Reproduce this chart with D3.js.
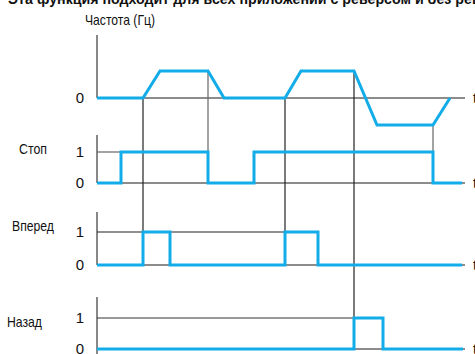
<!DOCTYPE html>
<html><head><meta charset="utf-8">
<script src="https://cdn.jsdelivr.net/npm/d3@7"></script>
<style>html,body{margin:0;padding:0;background:#fff;overflow:hidden}</style>
</head><body>
<script>
// Data (time in arbitrary units)
const title = "Эта функция подходит для всех приложений с реверсом и без реверса";
const freqLabel = "Частота (Гц)";
const freqPoints = [[0,0],[46,0],[63,1],[111,1],[127,0],[188,0],[204,1],[257,1],[280,-1],[336,-1],[353,0]];
const signalNames = ["Стоп","Вперед","Назад"];
const stopSteps = [[0,0],[24,1],[111,0],[157,1],[336,0],[365,0]];
const forwardSteps = [[0,0],[46,1],[73,0],[188,1],[221,0],[365,0]];
const reverseSteps = [[0,0],[257,1],[286,0],[366,0]];
const levelTicks = ["0","1"];
const timeLabel = "t";
const tEnd = 368;
// markers: [time, fromLevel(freq), toPanel, color]
const markers = [[46,0,1,"#222"],[111,1,0,"#666"],[188,0,1,"#222"],[257,1,2,"#222"],[336,-1,0,"#666"]];
const oneLineEnds = [24,188,257];

const W=475,H=354, blue="#12ade8";
const svg=d3.select("body").append("svg").attr("width",W).attr("height",H);
const x=d3.scaleLinear().domain([0,tEnd]).range([97,465]);
const yF=d3.scaleLinear().domain([-1,1]).range([125,71]);
const panels=[
 {name:signalNames[0],data:stopSteps,y:d3.scaleLinear().domain([0,1]).range([183,152]),top:135,bottom:183,c1:"#666",lx:19,ly:154,lw:28},
 {name:signalNames[1],data:forwardSteps,y:d3.scaleLinear().domain([0,1]).range([265,232]),top:212,bottom:265,c1:"#222",lx:12,ly:231,lw:42},
 {name:signalNames[2],data:reverseSteps,y:d3.scaleLinear().domain([0,1]).range([349,318]),top:297,bottom:354,c1:"#333",lx:7,ly:327,lw:35}
];
const font="'Liberation Sans Narrow','Arial Narrow',Arial,sans-serif";

svg.append("text").attr("x",8).attr("y",3.5).attr("font-family","'Liberation Sans',Arial,sans-serif")
 .attr("font-size",14).attr("font-weight","bold").attr("fill","#111")
 .attr("textLength",505).attr("lengthAdjust","spacingAndGlyphs").text(title);
svg.append("text").attr("x",85).attr("y",25).attr("font-family",font).attr("font-size",15).attr("fill","#111")
 .attr("textLength",70).attr("lengthAdjust","spacingAndGlyphs").text(freqLabel);

// freq axis
svg.append("line").attr("x1",97).attr("x2",97).attr("y1",35).attr("y2",yF(0)).attr("stroke","#111").attr("stroke-width",1);
svg.append("line").attr("x1",x(0)).attr("x2",x(tEnd)).attr("y1",yF(0)).attr("y2",yF(0)).attr("stroke","#666").attr("stroke-width",1.5);
svg.append("text").attr("x",84).attr("y",yF(0)+5).attr("text-anchor","end").attr("font-family",font).attr("font-size",15).attr("fill","#111").text(levelTicks[0]);
svg.append("text").attr("x",473).attr("y",yF(0)+5).attr("font-family",font).attr("font-size",14).attr("fill","#111").text(timeLabel);

panels.forEach((p,i)=>{
  svg.append("line").attr("x1",97).attr("x2",97).attr("y1",p.top).attr("y2",p.bottom).attr("stroke","#111").attr("stroke-width",1);
  svg.append("line").attr("x1",x(0)).attr("x2",x(tEnd)).attr("y1",p.y(0)).attr("y2",p.y(0)).attr("stroke","#666").attr("stroke-width",1.5);
  svg.append("line").attr("x1",x(0)).attr("x2",x(oneLineEnds[i])).attr("y1",p.y(1)).attr("y2",p.y(1)).attr("stroke",p.c1).attr("stroke-width",1.2);
  levelTicks.forEach((t,k)=>svg.append("text").attr("x",84).attr("y",p.y(k)+5).attr("text-anchor","end")
     .attr("font-family",font).attr("font-size",15).attr("fill","#111").text(t));
  svg.append("text").attr("x",473).attr("y",p.y(0)+5).attr("font-family",font).attr("font-size",14).attr("fill","#111").text(timeLabel);
  svg.append("text").attr("x",p.lx).attr("y",p.ly).attr("font-family",font).attr("font-size",15).attr("fill","#111")
     .attr("textLength",p.lw).attr("lengthAdjust","spacingAndGlyphs").text(p.name);
});

markers.forEach(m=>{
  svg.append("line").attr("x1",x(m[0])).attr("x2",x(m[0])).attr("y1",yF(m[1])).attr("y2",panels[m[2]].y(1))
   .attr("stroke",m[3]).attr("stroke-width",1.2);
});

const fl=d3.line().x(d=>x(d[0])).y(d=>yF(d[1]));
svg.append("path").attr("d",fl(freqPoints)).attr("fill","none").attr("stroke",blue).attr("stroke-width",3);
panels.forEach(p=>{
  const l=d3.line().x(d=>x(d[0])).y(d=>p.y(d[1])).curve(d3.curveStepAfter);
  svg.append("path").attr("d",l(p.data)).attr("fill","none").attr("stroke",blue).attr("stroke-width",3);
});
</script>
</body></html>
